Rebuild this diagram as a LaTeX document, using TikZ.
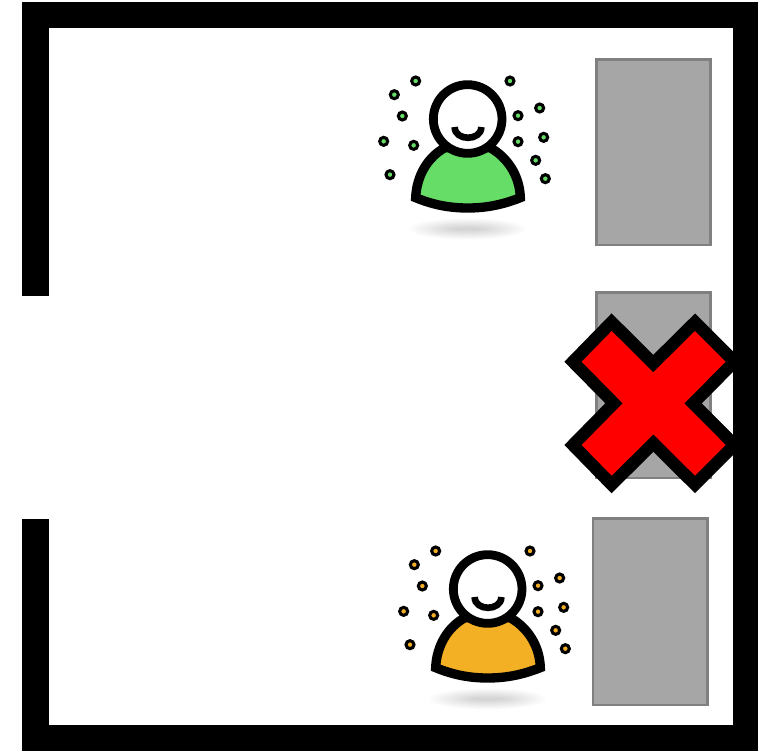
\documentclass[tikz,border=0pt]{standalone}
\definecolor{shirtgreen}{RGB}{102,221,102}
\definecolor{shirtorange}{RGB}{244,176,37}
\definecolor{deskfill}{RGB}{166,166,166}
\definecolor{deskline}{RGB}{128,128,128}
\tikzset{
  wall/.style={fill=black,draw=none},
  desk/.style={fill=deskfill,draw=deskline,line width=2.1pt},
  crossmark/.style={fill=red,preaction={draw=black,line width=18.6pt,miter limit=10,line join=miter}},
  pics/person/.style={code={
    \begin{scope}[x=.25pt,y=-.25pt]
      \foreach \k in {1,...,14}{
        \fill[black,opacity=.012] (293,492) ellipse ({(186-10*\k)*.25pt} and {(34-2.1*\k)*.25pt});
      }
      \draw[fill=#1,line width=7pt,line join=miter,miter limit=2]
        (137,398) .. controls (140,330) and (175,275) .. (225,248)
        -- (360,248) .. controls (410,275) and (449,330) .. (451,398)
        .. controls (396,420) and (346,429) .. (293,429)
        .. controls (240,429) and (190,420) .. (137,398) -- cycle;
      \draw[fill=white,line width=6.6pt] (293,162) circle [radius=25.75pt];
      \draw[line width=5pt] (254,186) .. controls (254,229) and (334,229) .. (334,186);
      \foreach \dotx/\doty in {137/48,73/89,97/153,41/229,131/241,60/329,420/48,509/129,444/152,444/230,521/217,497/286,526/341}{
        \draw[fill=#1,line width=2.3pt] (\dotx,\doty) circle [radius=3pt];
      }
    \end{scope}
  }}
}
\begin{document}
\begin{tikzpicture}[x=.75pt,y=-.75pt]
  \useasboundingbox (0,0) rectangle (758,751);
  \fill[white] (0,0) rectangle (758,751);
  % desks
  \draw[desk] (596.5,59.5) rectangle (710.5,245);
  \draw[desk] (596.5,292.5) rectangle (710.5,478);
  \draw[desk] (593,518.5) rectangle (707.5,705);
  % persons
  \pic at (370,65) {person=shirtgreen};
  \pic at (390,535) {person=shirtorange};
  % cross
  \path[crossmark] (611.7,331) -- (653.3,372.3) -- (695,331) -- (725.7,361.7)
    -- (684.3,403.3) -- (725.7,445) -- (695,475.7) -- (653.3,434.3)
    -- (611.7,475.7) -- (581.7,445) -- (622.7,403.3) -- (581.7,361.7) -- cycle;
  % walls
  \fill[wall] (22,2) rectangle (758,28);
  \fill[wall] (733,2) rectangle (758,751);
  \fill[wall] (22,725) rectangle (758,751);
  \fill[wall] (22,2) rectangle (49,296);
  \fill[wall] (22,519) rectangle (49,751);
\end{tikzpicture}
\end{document}
